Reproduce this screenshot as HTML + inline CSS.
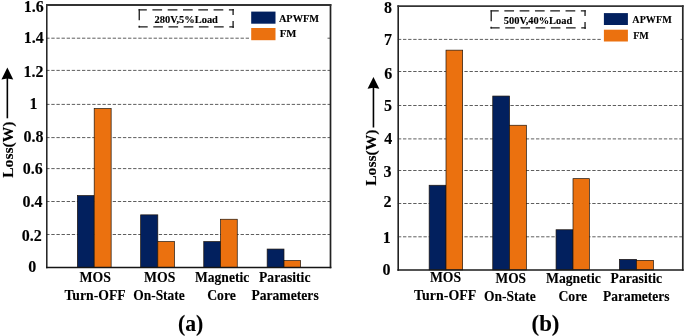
<!DOCTYPE html>
<html><head><meta charset="utf-8"><style>
html,body{margin:0;padding:0;background:#fff;}
svg{display:block;will-change:transform;}
text{font-family:"Liberation Serif",serif;font-weight:bold;fill:#000;stroke:#000;stroke-width:0.12px;}
</style></head><body>
<svg width="685" height="336" viewBox="0 0 685 336">
<rect width="685" height="336" fill="#fff"/>
<line x1="46.2" y1="234.50" x2="330.5" y2="234.50" stroke="#5e5e5e" stroke-width="1" stroke-dasharray="3.35 1.765"/>
<line x1="46.2" y1="201.50" x2="330.5" y2="201.50" stroke="#5e5e5e" stroke-width="1" stroke-dasharray="3.35 1.765"/>
<line x1="46.2" y1="168.60" x2="330.5" y2="168.60" stroke="#5e5e5e" stroke-width="1" stroke-dasharray="3.35 1.765"/>
<line x1="46.2" y1="137.60" x2="330.5" y2="137.60" stroke="#5e5e5e" stroke-width="1" stroke-dasharray="3.35 1.765"/>
<line x1="46.2" y1="104.40" x2="330.5" y2="104.40" stroke="#5e5e5e" stroke-width="1" stroke-dasharray="3.35 1.765"/>
<line x1="46.2" y1="70.40" x2="330.5" y2="70.40" stroke="#5e5e5e" stroke-width="1" stroke-dasharray="3.35 1.765"/>
<line x1="46.2" y1="38.20" x2="330.5" y2="38.20" stroke="#5e5e5e" stroke-width="1" stroke-dasharray="3.35 1.765"/>
<rect x="77.35" y="195.55" width="16.85" height="71.85" fill="#02205e" stroke="#1e150c" stroke-width="0.7"/>
<rect x="94.20" y="108.55" width="16.95" height="158.85" fill="#eb710f" stroke="#1e150c" stroke-width="0.7"/>
<rect x="140.65" y="214.85" width="17.15" height="52.55" fill="#02205e" stroke="#1e150c" stroke-width="0.7"/>
<rect x="157.80" y="241.60" width="16.65" height="25.80" fill="#eb710f" stroke="#1e150c" stroke-width="0.7"/>
<rect x="203.75" y="241.55" width="16.85" height="25.85" fill="#02205e" stroke="#1e150c" stroke-width="0.7"/>
<rect x="220.60" y="219.25" width="16.65" height="48.15" fill="#eb710f" stroke="#1e150c" stroke-width="0.7"/>
<rect x="267.15" y="249.05" width="16.85" height="18.35" fill="#02205e" stroke="#1e150c" stroke-width="0.7"/>
<rect x="284.00" y="260.60" width="16.55" height="6.80" fill="#eb710f" stroke="#1e150c" stroke-width="0.7"/>
<rect x="249" y="8" width="78" height="36" fill="#fff"/>
<rect x="251.2" y="11.6" width="24.3" height="12.1" fill="#02205e"/>
<rect x="251.2" y="28" width="24.3" height="12.2" fill="#eb710f"/>
<text id="aapw" x="298.97" y="21.8" font-size="10.4" text-anchor="middle" textLength="40.16" lengthAdjust="spacingAndGlyphs">APWFM</text>
<text id="afm" x="288.02" y="37.2" font-size="10.4" text-anchor="middle" textLength="16.65" lengthAdjust="spacingAndGlyphs">FM</text>
<g transform="translate(0 0)" stroke="#1a1a1a" stroke-width="1.3" fill="none"><path d="M138.6 9.8H233.8" stroke-dasharray="9.7 5.6" stroke-dashoffset="1.5"/><path d="M233.1 9.1V27.9" stroke-dasharray="5.9 5.9 8"/><path d="M138.6 26.8H233.8" stroke-dasharray="9.6 5.6" stroke-dashoffset="0.5"/><path d="M139.25 9.1V27.5" stroke-dasharray="11.1 5.5 3"/></g>
<text id="adt" x="186.25" y="23.1" font-size="10.4" text-anchor="middle" textLength="63.40" lengthAdjust="spacingAndGlyphs">280V,5%Load</text>
<line x1="46.8" y1="4.1" x2="46.8" y2="268.2" stroke="#1e1e1e" stroke-width="1.5"/>
<line x1="330.5" y1="4.1" x2="330.5" y2="268.2" stroke="#222" stroke-width="1.7"/>
<line x1="46.05" y1="5.0" x2="331.35" y2="5.0" stroke="#333" stroke-width="1.8"/>
<line x1="46.05" y1="267.45" x2="331.35" y2="267.45" stroke="#151515" stroke-width="1.5"/>
<text id="at0" x="32.20" y="272.0" font-size="16" text-anchor="middle">0</text>
<text id="at1" x="31.65" y="240.65" font-size="16" text-anchor="middle">0.2</text>
<text id="at2" x="32.40" y="206.95" font-size="16" text-anchor="middle">0.4</text>
<text id="at3" x="32.75" y="173.75" font-size="16" text-anchor="middle">0.6</text>
<text id="at4" x="33.55" y="142.2" font-size="16" text-anchor="middle">0.8</text>
<text id="at5" x="33.40" y="108.75" font-size="16" text-anchor="middle">1</text>
<text id="at6" x="33.40" y="76.75" font-size="16" text-anchor="middle">1.2</text>
<text id="at7" x="33.75" y="43.45" font-size="16" text-anchor="middle">1.4</text>
<text id="at8" x="33.65" y="11.85" font-size="16" text-anchor="middle">1.6</text>
<text id="ac0a" x="95.24" y="281.8" font-size="14" text-anchor="middle" textLength="31.39" lengthAdjust="spacingAndGlyphs">MOS</text>
<text id="ac0b" x="95.07" y="299.6" font-size="14" text-anchor="middle" textLength="61.22" lengthAdjust="spacingAndGlyphs">Turn-OFF</text>
<text id="ac1a" x="159.68" y="281.8" font-size="14" text-anchor="middle" textLength="31.29" lengthAdjust="spacingAndGlyphs">MOS</text>
<text id="ac1b" x="158.99" y="299.6" font-size="14" text-anchor="middle" textLength="51.50" lengthAdjust="spacingAndGlyphs">On-State</text>
<text id="ac2a" x="222.11" y="281.8" font-size="14" text-anchor="middle" textLength="54.16" lengthAdjust="spacingAndGlyphs">Magnetic</text>
<text id="ac2b" x="221.56" y="299.6" font-size="14" text-anchor="middle" textLength="28.70" lengthAdjust="spacingAndGlyphs">Core</text>
<text id="ac3a" x="284.74" y="281.8" font-size="14" text-anchor="middle" textLength="51.44" lengthAdjust="spacingAndGlyphs">Parasitic</text>
<text id="ac3b" x="285.04" y="299.6" font-size="14" text-anchor="middle" textLength="67.32" lengthAdjust="spacingAndGlyphs">Parameters</text>
<line x1="7.35" y1="76.3" x2="7.35" y2="118.3" stroke="#000" stroke-width="1.6"/>
<path d="M7.35 67.4 L13.25 79.6 L7.35 78.5 L1.4499999999999993 79.6 Z" fill="#000"/>
<text x="0" y="0" font-size="15.6" transform="translate(12.6 177.8) rotate(-90)">Loss(W)</text>
<text id="apl" x="0" y="0" font-size="22" text-anchor="middle" textLength="25.33" lengthAdjust="spacingAndGlyphs" transform="translate(190.63 330.6) scale(1 1.03)">(a)</text>
<line x1="397.9" y1="236.80" x2="682.8" y2="236.80" stroke="#5e5e5e" stroke-width="1" stroke-dasharray="3.35 1.765"/>
<line x1="397.9" y1="203.50" x2="682.8" y2="203.50" stroke="#5e5e5e" stroke-width="1" stroke-dasharray="3.35 1.765"/>
<line x1="397.9" y1="170.50" x2="682.8" y2="170.50" stroke="#5e5e5e" stroke-width="1" stroke-dasharray="3.35 1.765"/>
<line x1="397.9" y1="138.90" x2="682.8" y2="138.90" stroke="#5e5e5e" stroke-width="1" stroke-dasharray="3.35 1.765"/>
<line x1="397.9" y1="105.50" x2="682.8" y2="105.50" stroke="#5e5e5e" stroke-width="1" stroke-dasharray="3.35 1.765"/>
<line x1="397.9" y1="71.50" x2="682.8" y2="71.50" stroke="#5e5e5e" stroke-width="1" stroke-dasharray="3.35 1.765"/>
<line x1="397.9" y1="39.40" x2="682.8" y2="39.40" stroke="#5e5e5e" stroke-width="1" stroke-dasharray="3.35 1.765"/>
<rect x="429.15" y="185.25" width="16.85" height="84.65" fill="#02205e" stroke="#1e150c" stroke-width="0.7"/>
<rect x="446.00" y="50.15" width="16.65" height="219.75" fill="#eb710f" stroke="#1e150c" stroke-width="0.7"/>
<rect x="492.75" y="96.05" width="16.80" height="173.85" fill="#02205e" stroke="#1e150c" stroke-width="0.7"/>
<rect x="509.55" y="125.25" width="16.80" height="144.65" fill="#eb710f" stroke="#1e150c" stroke-width="0.7"/>
<rect x="556.05" y="229.75" width="16.95" height="40.15" fill="#02205e" stroke="#1e150c" stroke-width="0.7"/>
<rect x="573.00" y="178.65" width="16.35" height="91.25" fill="#eb710f" stroke="#1e150c" stroke-width="0.7"/>
<rect x="619.35" y="259.35" width="17.15" height="10.55" fill="#02205e" stroke="#1e150c" stroke-width="0.7"/>
<rect x="636.50" y="260.35" width="16.95" height="9.55" fill="#eb710f" stroke="#1e150c" stroke-width="0.7"/>
<rect x="601.6" y="9" width="79" height="36" fill="#fff"/>
<rect x="603.9" y="13.1" width="24" height="11.9" fill="#02205e"/>
<rect x="603.9" y="29.7" width="24" height="11.8" fill="#eb710f"/>
<text id="bapw" x="652.03" y="22.7" font-size="10.4" text-anchor="middle" textLength="39.33" lengthAdjust="spacingAndGlyphs">APWFM</text>
<text id="bfm" x="640.94" y="38.5" font-size="10.4" text-anchor="middle" textLength="15.61" lengthAdjust="spacingAndGlyphs">FM</text>
<g transform="translate(351.95 1.1)" stroke="#1a1a1a" stroke-width="1.3" fill="none"><path d="M138.6 9.8H233.8" stroke-dasharray="9.7 5.6" stroke-dashoffset="1.5"/><path d="M233.1 9.1V27.9" stroke-dasharray="5.9 5.9 8"/><path d="M138.6 26.8H233.8" stroke-dasharray="9.6 5.6" stroke-dashoffset="0.5"/><path d="M139.25 9.1V27.5" stroke-dasharray="11.1 5.5 3"/></g>
<text id="bdt" x="538.07" y="24.1" font-size="10.4" text-anchor="middle" textLength="68.44" lengthAdjust="spacingAndGlyphs">500V,40%Load</text>
<line x1="398.2" y1="5.199999999999999" x2="398.2" y2="270.8" stroke="#222" stroke-width="1.6"/>
<line x1="682.8" y1="5.199999999999999" x2="682.8" y2="270.8" stroke="#262626" stroke-width="1.7"/>
<line x1="397.4" y1="6.1" x2="683.65" y2="6.1" stroke="#333" stroke-width="1.8"/>
<line x1="397.4" y1="270.0" x2="683.65" y2="270.0" stroke="#1a1a1a" stroke-width="1.6"/>
<text id="bt0" x="386.45" y="275.2" font-size="16" text-anchor="middle">0</text>
<text id="bt1" x="386.65" y="242.7" font-size="16" text-anchor="middle">1</text>
<text id="bt2" x="387.40" y="207.3" font-size="16" text-anchor="middle">2</text>
<text id="bt3" x="387.50" y="176.85" font-size="16" text-anchor="middle">3</text>
<text id="bt4" x="388.25" y="143.55" font-size="16" text-anchor="middle">4</text>
<text id="bt5" x="388.05" y="110.65" font-size="16" text-anchor="middle">5</text>
<text id="bt6" x="388.30" y="79.25" font-size="16" text-anchor="middle">6</text>
<text id="bt7" x="388.10" y="45.2" font-size="16" text-anchor="middle">7</text>
<text id="bt8" x="387.90" y="13.1" font-size="16" text-anchor="middle">8</text>
<text id="bc0a" x="445.53" y="282.2" font-size="14" text-anchor="middle" textLength="31.16" lengthAdjust="spacingAndGlyphs">MOS</text>
<text id="bc0b" x="445.15" y="300.2" font-size="14" text-anchor="middle" textLength="62.08" lengthAdjust="spacingAndGlyphs">Turn-OFF</text>
<text id="bc1a" x="510.75" y="283.1" font-size="14" text-anchor="middle" textLength="30.46" lengthAdjust="spacingAndGlyphs">MOS</text>
<text id="bc1b" x="509.96" y="300.8" font-size="14" text-anchor="middle" textLength="51.86" lengthAdjust="spacingAndGlyphs">On-State</text>
<text id="bc2a" x="573.39" y="282.9" font-size="14" text-anchor="middle" textLength="54.83" lengthAdjust="spacingAndGlyphs">Magnetic</text>
<text id="bc2b" x="572.77" y="300.8" font-size="14" text-anchor="middle" textLength="28.74" lengthAdjust="spacingAndGlyphs">Core</text>
<text id="bc3a" x="636.35" y="282.9" font-size="14" text-anchor="middle" textLength="51.48" lengthAdjust="spacingAndGlyphs">Parasitic</text>
<text id="bc3b" x="636.26" y="301" font-size="14" text-anchor="middle" textLength="66.57" lengthAdjust="spacingAndGlyphs">Parameters</text>
<line x1="373.45" y1="85.5" x2="373.45" y2="127.5" stroke="#000" stroke-width="1.6"/>
<path d="M373.45 77 L379.34999999999997 88.8 L373.45 87.7 L367.55 88.8 Z" fill="#000"/>
<text x="0" y="0" font-size="15.6" transform="translate(376.4 185.8) rotate(-90)">Loss(W)</text>
<text id="bpl" x="0" y="0" font-size="22" text-anchor="middle" textLength="27.92" lengthAdjust="spacingAndGlyphs" transform="translate(545.47 330.6) scale(1 1.03)">(b)</text>
</svg>
</body></html>
